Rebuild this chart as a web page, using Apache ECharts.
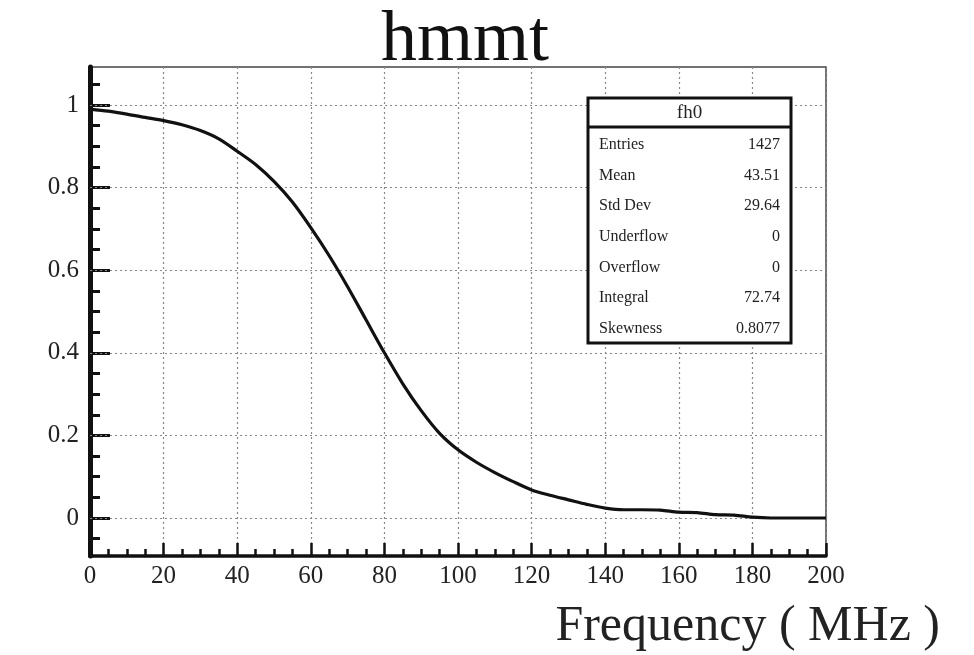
<!DOCTYPE html>
<html>
<head>
<meta charset="utf-8">
<script src="https://cdn.jsdelivr.net/npm/echarts@6/dist/echarts.min.js"></script>
<style>
  html, body { margin: 0; padding: 0; background: #fff; }
  #chart { width: 974px; height: 655px; }
</style>
</head>
<body>
<div id="chart"></div>
<script>
// frequency (MHz) and normalised response
var freq = [0, 5, 10, 15, 20, 25, 30, 35, 40, 45, 50, 55, 60, 65, 70, 75, 80, 85, 90, 95,
            100, 105, 110, 115, 120, 125, 130, 135, 140, 145, 150, 155, 160, 165, 170, 175, 180, 185, 190, 195, 200];
var resp = [0.99, 0.985, 0.978, 0.97, 0.962, 0.952, 0.938, 0.918, 0.888, 0.856, 0.815, 0.765, 0.703, 0.635, 0.56, 0.48, 0.40, 0.325, 0.26, 0.205,
            0.165, 0.135, 0.11, 0.088, 0.068, 0.055, 0.044, 0.033, 0.024, 0.02, 0.02, 0.019, 0.014, 0.013, 0.008, 0.007, 0.002, 0, 0, 0, 0];
var yMajor = [0, 0.2, 0.4, 0.6, 0.8, 1];
var yMinor = [-0.05, 0.05, 0.1, 0.15, 0.25, 0.3, 0.35, 0.45, 0.5, 0.55, 0.65, 0.7, 0.75, 0.85, 0.9, 0.95, 1.05];
var statNames = ['Entries', 'Mean', 'Std Dev', 'Underflow', 'Overflow', 'Integral', 'Skewness'];
var statValues = ['1427', '43.51', '29.64', '0', '0', '72.74', '0.8077'];

var serif = '"Liberation Serif", "DejaVu Serif", serif';
var chart = echarts.init(document.getElementById('chart'));

var data = [];
for (var i = 0; i < freq.length; i++) {
    data.push([freq[i], resp[i]]);
}

// stats box
var boxX = 588, boxY = 98, boxW = 203, boxH = 245, headH = 29, rowH = 30.6;
var statGraphics = [
    {type: 'rect', shape: {x: boxX, y: boxY, width: boxW, height: boxH},
     style: {fill: '#fff', stroke: '#111', lineWidth: 3}, z: 10},
    {type: 'line', shape: {x1: boxX, y1: boxY + headH, x2: boxX + boxW, y2: boxY + headH},
     style: {stroke: '#111', lineWidth: 3}, z: 11},
    {type: 'text', x: boxX + boxW / 2, y: boxY + headH / 2 + 1,
     style: {text: 'fh0', font: '19px ' + serif, fill: '#222', align: 'center', verticalAlign: 'middle'}, z: 11}
];
for (var k = 0; k < statNames.length; k++) {
    var ry = boxY + headH + 18 + k * rowH;
    statGraphics.push({type: 'text', x: boxX + 11, y: ry,
        style: {text: statNames[k], font: '16px ' + serif, fill: '#222', verticalAlign: 'middle'}, z: 11});
    statGraphics.push({type: 'text', x: boxX + boxW - 11, y: ry,
        style: {text: statValues[k], font: '16px ' + serif, fill: '#222', align: 'right', verticalAlign: 'middle'}, z: 11});
}

var gridLines = yMajor.map(function (v) { return {yAxis: v}; });

var option = {
    animation: false,
    backgroundColor: '#fff',
    grid: {left: 90, right: 148, top: 67, bottom: 99, show: true, borderColor: '#444', borderWidth: 1.5},
    xAxis: {
        type: 'value', min: 0, max: 200, interval: 20,
        axisLine: {show: true, onZero: false, lineStyle: {color: '#111', width: 3.5}},
        axisTick: {show: true, inside: true, length: 13, lineStyle: {color: '#111', width: 2.5}},
        minorTick: {show: true, splitNumber: 4, length: 7, lineStyle: {color: '#111', width: 2.5}},
        axisLabel: {color: '#222', fontFamily: serif, fontSize: 25, margin: 8},
        splitLine: {show: true, lineStyle: {color: '#888', type: [2, 3], width: 1.2}}
    },
    yAxis: [{
        type: 'value', min: -0.092, max: 1.092,
        axisLine: {show: true, onZero: false, lineStyle: {color: '#111', width: 5}},
        axisTick: {show: true, inside: true, length: 20, customValues: yMajor, lineStyle: {color: '#111', width: 3}},
        axisLabel: {customValues: yMajor, color: '#222', fontFamily: serif, fontSize: 25, margin: 11},
        splitLine: {show: false}
    }, {
        type: 'value', min: -0.092, max: 1.092, position: 'left',
        axisLine: {show: false},
        axisTick: {show: true, inside: true, length: 10, customValues: yMinor, lineStyle: {color: '#111', width: 3}},
        axisLabel: {show: false},
        splitLine: {show: false}
    }],
    title: {
        text: 'hmmt', left: 460, textAlign: 'center', top: 0,
        textStyle: {fontFamily: serif, fontSize: 72, fontWeight: 'normal', color: '#111'}
    },
    graphic: statGraphics.concat([{
        type: 'text', right: 34, top: 602,
        style: {text: 'Frequency ( MHz )', font: '50px ' + serif, fill: '#222'}
    }]),
    series: [{
        type: 'line', data: data, showSymbol: false, smooth: 0.3,
        lineStyle: {color: '#111', width: 3.2},
        markLine: {
            silent: true, symbol: 'none', label: {show: false},
            lineStyle: {color: '#888', type: [2, 3], width: 1.2},
            data: gridLines
        },
        z: 5
    }]
};
chart.setOption(option);
</script>
</body>
</html>
